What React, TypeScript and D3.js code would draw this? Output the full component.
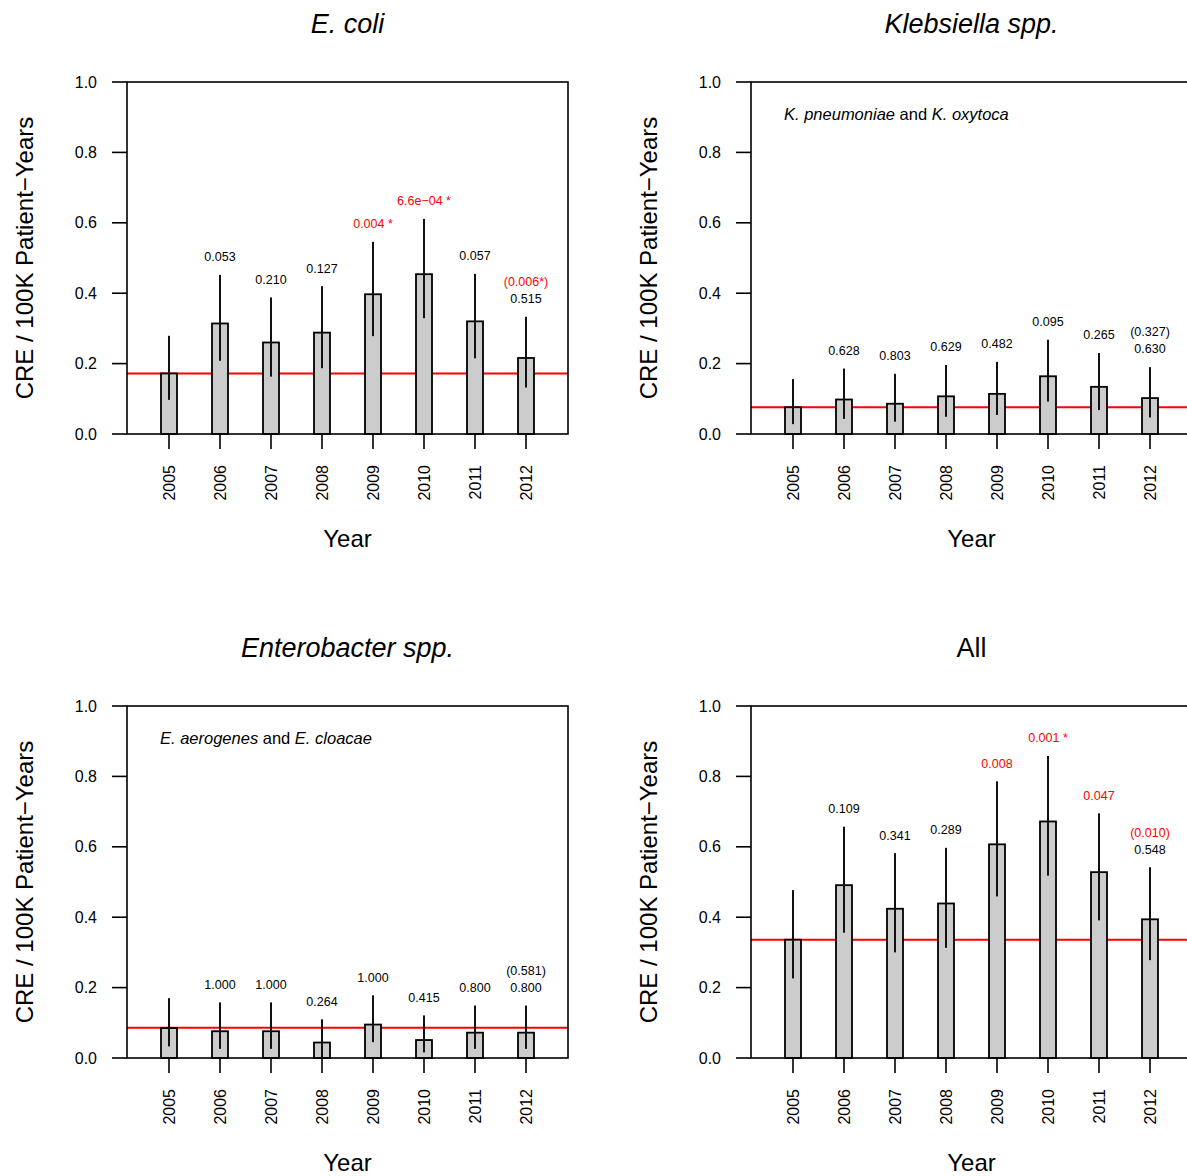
import React from 'react';
import * as d3 from 'd3';

// years on the x axis
const years = ['2005', '2006', '2007', '2008', '2009', '2010', '2011', '2012'];

// E. coli
const ecoliRate = [0.172, 0.314, 0.260, 0.288, 0.397, 0.454, 0.320, 0.216];
const ecoliLow = [0.097, 0.208, 0.163, 0.187, 0.278, 0.329, 0.215, 0.132];
const ecoliHigh = [0.279, 0.452, 0.388, 0.420, 0.546, 0.611, 0.455, 0.333];
const ecoliP = ['', '0.053', '0.210', '0.127', '0.004 *', '6.6e\u221204 *', '0.057', '0.515'];
const ecoliSig = [false, false, false, false, true, true, false, false];
const ecoliBase = 0.172;
const ecoliTrend = '(0.006*)';
const ecoliTrendSig = true;

// Klebsiella
const klebRate = [0.076, 0.098, 0.086, 0.107, 0.114, 0.164, 0.134, 0.102];
const klebLow = [0.028, 0.043, 0.035, 0.049, 0.054, 0.092, 0.068, 0.047];
const klebHigh = [0.156, 0.186, 0.171, 0.196, 0.205, 0.268, 0.230, 0.190];
const klebP = ['', '0.628', '0.803', '0.629', '0.482', '0.095', '0.265', '0.630'];
const klebSig = [false, false, false, false, false, false, false, false];
const klebBase = 0.076;
const klebTrend = '(0.327)';
const klebTrendSig = false;

// Enterobacter
const entRate = [0.085, 0.076, 0.076, 0.044, 0.095, 0.051, 0.072, 0.072];
const entLow = [0.033, 0.026, 0.026, 0.0, 0.045, 0.016, 0.026, 0.026];
const entHigh = [0.170, 0.158, 0.158, 0.110, 0.178, 0.121, 0.149, 0.149];
const entP = ['', '1.000', '1.000', '0.264', '1.000', '0.415', '0.800', '0.800'];
const entSig = [false, false, false, false, false, false, false, false];
const entBase = 0.086;
const entTrend = '(0.581)';
const entTrendSig = false;

// All
const allRate = [0.336, 0.491, 0.424, 0.439, 0.607, 0.672, 0.528, 0.394];
const allLow = [0.226, 0.356, 0.300, 0.313, 0.459, 0.518, 0.391, 0.278];
const allHigh = [0.477, 0.657, 0.582, 0.597, 0.786, 0.858, 0.695, 0.542];
const allP = ['', '0.109', '0.341', '0.289', '0.008', '0.001 *', '0.047', '0.548'];
const allSig = [false, false, false, false, true, true, true, false];
const allBase = 0.336;
const allTrend = '(0.010)';
const allTrendSig = true;

const FONT = '"Liberation Sans", Arial, Helvetica, sans-serif';
const W = 441;
const H = 352;

type PanelProps = {
  ox: number;
  oy: number;
  title: string;
  italic: boolean;
  note?: React.ReactNode;
  rate: number[];
  low: number[];
  high: number[];
  pvals: string[];
  sig: boolean[];
  base: number;
  trend: string;
  trendSig: boolean;
};

const Panel = ({ ox, oy, title, italic, note, rate, low, high, pvals, sig, base, trend, trendSig }: PanelProps) => {
  const x = d3.scalePoint<string>().domain(years).range([0, W]).padding(0.8235);
  const y = d3.scaleLinear().domain([0, 1]).range([H, 0]);
  const bw = 16;
  const last = years.length - 1;

  return (
    <g transform={`translate(${ox},${oy})`} fontFamily={FONT}>
      <text x={W / 2} y={-49} textAnchor="middle" fontSize={27} fontStyle={italic ? 'italic' : 'normal'}>
        {title}
      </text>
      {note && (
        <text x={33} y={38} fontSize={16.5}>
          {note}
        </text>
      )}

      {/* reference rate sits behind the bars */}
      <line x1={0} x2={W} y1={y(base)} y2={y(base)} stroke="#ff0000" strokeWidth={2} />

      {years.map((yr, i) => (
        <rect
          key={'b' + yr}
          x={x(yr)! - bw / 2}
          y={y(rate[i])}
          width={bw}
          height={y(0) - y(rate[i])}
          fill="#cccccc"
          stroke="#000"
          strokeWidth={1.8}
        />
      ))}

      {years.map((yr, i) => (
        <line
          key={'e' + yr}
          x1={x(yr)}
          x2={x(yr)}
          y1={y(low[i])}
          y2={y(high[i])}
          stroke="#111"
          strokeWidth={2}
        />
      ))}

      {years.map((yr, i) =>
        pvals[i] ? (
          <text
            key={'p' + yr}
            x={x(yr)}
            y={y(high[i]) - 18}
            dy="0.35em"
            textAnchor="middle"
            fontSize={12.5}
            fill={sig[i] ? '#ff0000' : '#000'}
          >
            {pvals[i]}
          </text>
        ) : null
      )}
      <text
        x={x(years[last])}
        y={y(high[last]) - 35}
        dy="0.35em"
        textAnchor="middle"
        fontSize={12.5}
        fill={trendSig ? '#ff0000' : '#000'}
      >
        {trend}
      </text>

      <rect x={0} y={0} width={W} height={H} fill="none" stroke="#000" strokeWidth={1.6} />

      {y.ticks(5).map((t) => (
        <g key={'yt' + t} transform={`translate(0,${y(t)})`}>
          <line x1={-15} x2={0} stroke="#000" strokeWidth={1.6} />
          <text x={-30} dy="0.35em" textAnchor="end" fontSize={16}>
            {d3.format('.1f')(t)}
          </text>
        </g>
      ))}

      {years.map((yr) => (
        <g key={'xt' + yr} transform={`translate(${x(yr)},${H})`}>
          <line y1={0} y2={15} stroke="#000" strokeWidth={1.6} />
          <text transform="translate(0,31) rotate(-90)" dy="0.35em" textAnchor="end" fontSize={16}>
            {yr}
          </text>
        </g>
      ))}

      <text x={W / 2} y={465} textAnchor="middle" fontSize={24}>
        Year
      </text>
      <text transform={`translate(-94,${H / 2}) rotate(-90)`} textAnchor="middle" fontSize={24}>
        CRE / 100K Patient{'\u2212'}Years
      </text>
    </g>
  );
};

const App = () => {
  const col = [127, 751];
  const row = [82, 706];
  return (
    <svg width={1187} height={1176} style={{ position: 'absolute', left: 0, top: 0, background: '#fff' }}>
      <Panel
        ox={col[0]}
        oy={row[0]}
        title="E. coli"
        italic
        rate={ecoliRate}
        low={ecoliLow}
        high={ecoliHigh}
        pvals={ecoliP}
        sig={ecoliSig}
        base={ecoliBase}
        trend={ecoliTrend}
        trendSig={ecoliTrendSig}
      />
      <Panel
        ox={col[1]}
        oy={row[0]}
        title="Klebsiella spp."
        italic
        note={
          <>
            <tspan fontStyle="italic">K. pneumoniae</tspan> and <tspan fontStyle="italic">K. oxytoca</tspan>
          </>
        }
        rate={klebRate}
        low={klebLow}
        high={klebHigh}
        pvals={klebP}
        sig={klebSig}
        base={klebBase}
        trend={klebTrend}
        trendSig={klebTrendSig}
      />
      <Panel
        ox={col[0]}
        oy={row[1]}
        title="Enterobacter spp."
        italic
        note={
          <>
            <tspan fontStyle="italic">E. aerogenes</tspan> and <tspan fontStyle="italic">E. cloacae</tspan>
          </>
        }
        rate={entRate}
        low={entLow}
        high={entHigh}
        pvals={entP}
        sig={entSig}
        base={entBase}
        trend={entTrend}
        trendSig={entTrendSig}
      />
      <Panel
        ox={col[1]}
        oy={row[1]}
        title="All"
        italic={false}
        rate={allRate}
        low={allLow}
        high={allHigh}
        pvals={allP}
        sig={allSig}
        base={allBase}
        trend={allTrend}
        trendSig={allTrendSig}
      />
    </svg>
  );
};

export default App;
